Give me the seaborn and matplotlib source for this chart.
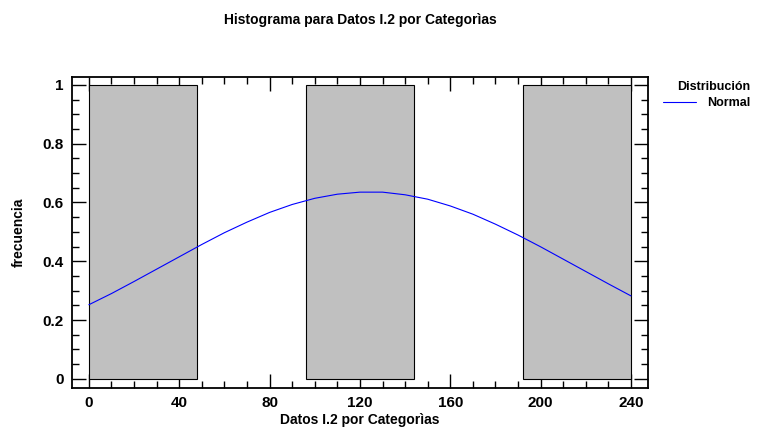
import numpy as np
import pandas as pd
import matplotlib
matplotlib.use("Agg")
import matplotlib.pyplot as plt
from matplotlib.ticker import MultipleLocator
import seaborn as sns

# Histogram data
bin_edges = [0, 48, 96, 144, 192, 240]
bin_counts = [1, 0, 1, 0, 1]

# Fitted normal curve
curve_x = [0, 10, 20, 30, 40, 50, 60, 70, 80, 90, 100, 110, 120, 130, 140,
           150, 160, 170, 180, 190, 200, 210, 220, 230, 240]
curve_y = [0.252, 0.290, 0.331, 0.373, 0.415, 0.457, 0.497, 0.533, 0.566, 0.593,
           0.614, 0.628, 0.635, 0.635, 0.626, 0.611, 0.588, 0.560, 0.526, 0.489,
           0.449, 0.407, 0.365, 0.323, 0.282]

x_ticks = [0, 40, 80, 120, 160, 200, 240]
y_ticks = [0, 0.2, 0.4, 0.6, 0.8, 1]
y_tick_labels = ["0", "0.2", "0.4", "0.6", "0.8", "1"]

sns.set_style("white")
plt.rcParams['font.family'] = ['Liberation Sans', 'DejaVu Sans']
plt.rcParams['text.color'] = 'black'
plt.rcParams['axes.labelcolor'] = 'black'
plt.rcParams['xtick.color'] = 'black'
plt.rcParams['ytick.color'] = 'black'

fig = plt.figure(figsize=(7.65, 4.32), dpi=100)
ax = fig.add_axes([0.094, 0.102, 0.753, 0.720])

centers = [(bin_edges[i] + bin_edges[i + 1]) / 2 for i in range(len(bin_counts))]
df = pd.DataFrame({"x": centers, "w": bin_counts})
sns.histplot(data=df, x="x", weights="w", bins=bin_edges, ax=ax,
             color="#c0c0c0", edgecolor="black", linewidth=0.8, alpha=1)
for p in list(ax.patches):
    if p.get_height() == 0:
        p.remove()

cdf = pd.DataFrame({"x": curve_x, "y": curve_y})
sns.lineplot(data=cdf, x="x", y="y", ax=ax, color="#0000ff", linewidth=0.8,
             label="Normal")

ax.set_xlim(-7.5, 247.5)
ax.set_ylim(-0.031, 1.027)
ax.set_xticks(x_ticks)
ax.set_xticklabels([str(t) for t in x_ticks], fontsize=11, fontweight="bold")
ax.set_yticks(y_ticks)
ax.set_yticklabels(y_tick_labels, fontsize=11, fontweight="bold")
ax.xaxis.set_minor_locator(MultipleLocator(10))
ax.yaxis.set_minor_locator(MultipleLocator(0.05))
ax.tick_params(which="both", direction="in", top=True, right=True, bottom=True, left=True,
               color="black", width=1, labelcolor="black")
ax.tick_params(which="major", length=10, pad=6)
ax.tick_params(which="minor", length=5)

for s in ax.spines.values():
    s.set_visible(True)
    s.set_color("black")
    s.set_linewidth(1.3)

ax.set_xlabel("Datos I.2 por Categorìas", fontsize=10, fontweight="bold", labelpad=2)
ax.set_ylabel("frecuencia", fontsize=10, fontweight="bold", labelpad=12)

ax.text(0.5, 1.0 + (77 - 20) / 311, "Histograma para Datos I.2 por Categorìas",
        transform=ax.transAxes, ha="center", va="center",
        fontsize=10, fontweight="bold")

leg = ax.legend(loc="upper right", bbox_to_anchor=(1.186, 1.002), frameon=False,
                title="Distribución", fontsize=9, title_fontsize=9,
                handlelength=2.6, handletextpad=0.9, borderaxespad=0,
                labelspacing=0.3)
leg.get_title().set_fontweight("bold")
for t in leg.get_texts():
    t.set_fontweight("bold")
leg._legend_box.align = "right"

fig.savefig("out.png", dpi=100)
